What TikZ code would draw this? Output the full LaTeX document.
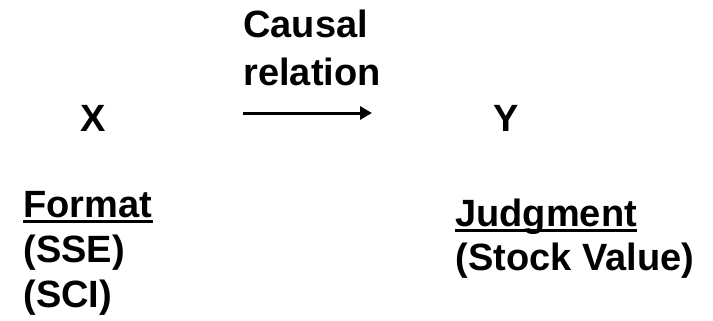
\documentclass[tikz,border=0pt]{standalone}
\usepackage{fontspec}
\setmainfont{Liberation Sans}
\usetikzlibrary{arrows.meta}

\tikzset{
  lbl/.style={anchor=base west,inner sep=0pt,font=\fontsize{19}{22}\selectfont\bfseries},
  ulined/.style={line width=1.5pt},
}

\begin{document}
\begin{tikzpicture}[x=0.5pt,y=-0.5pt,>={Triangle[length=6pt,width=6.5pt]}]
\useasboundingbox (0,0) rectangle (713,321);
% variables
\node[lbl] (x) at (80,131) {X};
\node[lbl] (y) at (493,131) {Y};
% arrow between them
\node[lbl] (causal) at (243,38) {Causal};
\node[lbl] (relation) at (243,85) {relation};
\coordinate (arrowstart) at (243,113);
\coordinate (arrowend) at (372,113);
\draw[line width=1.5pt,->] (arrowstart) -- (arrowend);
% left column
\node[lbl] (format) at (23,217) {Format};
\node[lbl] (sse) at (23,262) {(SSE)};
\node[lbl] (sci) at (23,307) {(SCI)};
\draw[ulined] ([yshift=-2.2pt]format.base west) -- ([yshift=-2.2pt]format.base east);
% right column
\node[lbl] (judgment) at (455,226) {Judgment};
\node[lbl] (stock) at (455,270) {(Stock Value)};
\draw[ulined] ([yshift=-2.2pt]judgment.base west) -- ([yshift=-2.2pt]judgment.base east);
\end{tikzpicture}
\end{document}
